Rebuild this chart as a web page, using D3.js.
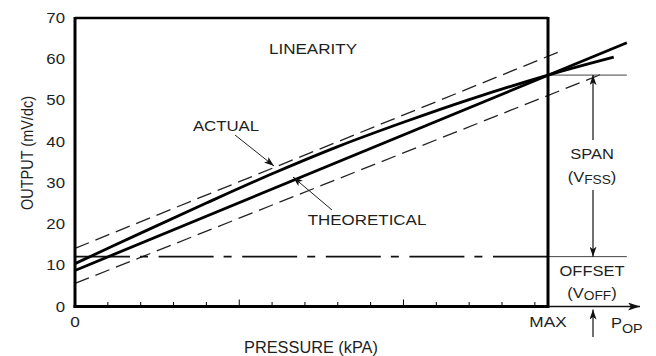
<!DOCTYPE html>
<html>
<head>
<meta charset="UTF-8">
<script src="https://d3js.org/d3.v7.min.js"></script>
<style>
    body { margin: 0; background: #fff; }
    svg { display: block; }
    text { font-family: "Liberation Sans", Arial, sans-serif; fill: #1e1e1e; }
</style>
</head>
<body>
<svg id="chart" width="656" height="356"></svg>
<script>
// pressure in tick units (MAX sits at 14.4), output in mV
const yTicks = [0, 10, 20, 30, 40, 50, 60, 70];
const xMinorTicks = [1, 2, 3, 4, 6, 7, 8, 9, 11, 12, 13, 14];
const xMajorTicks = [5, 10];
const xTickLabels = [{p: 0, label: "0"}, {p: 14.4, label: "MAX"}];
const pMax = 14.4;
const pEnd = 16.8;

const theoretical = [{p: 0, v: 8.75}, {p: 16.8, v: 64.0}];
const actual = [
    {p: 0, v: 10.4}, {p: 2, v: 17.8}, {p: 4, v: 25.1}, {p: 6, v: 32.2},
    {p: 8, v: 38.8}, {p: 10, v: 44.7}, {p: 12, v: 50.2}, {p: 14.4, v: 56.15},
    {p: 16.4, v: 60.5}
];
const upperBand = [{p: 0, v: 14.1}, {p: 14.8, v: 62.0}];
const lowerBand = [{p: 0, v: 5.6}, {p: 16.1, v: 56.6}];
const offsetValue = 12.1;
const spanValue = 56.15;

const svg = d3.select("#chart");
const x = d3.scaleLinear().domain([0, pMax]).range([75, 548]);
const y = d3.scaleLinear().domain([0, 70]).range([306.5, 18]);

// arrow heads
const defs = svg.append("defs");
defs.append("marker")
    .attr("id", "head")
    .attr("viewBox", "0 0 12 8")
    .attr("refX", 12).attr("refY", 4)
    .attr("markerWidth", 12).attr("markerHeight", 8)
    .attr("markerUnits", "userSpaceOnUse")
    .attr("orient", "auto")
    .append("path").attr("d", "M0,0 L12,4 L0,8 L3,4 Z").attr("fill", "#111");
defs.append("marker")
    .attr("id", "headSmall")
    .attr("viewBox", "0 0 10 7")
    .attr("refX", 10).attr("refY", 3.5)
    .attr("markerWidth", 10).attr("markerHeight", 7)
    .attr("markerUnits", "userSpaceOnUse")
    .attr("orient", "auto")
    .append("path").attr("d", "M0,0 L10,3.5 L0,7 L2.5,3.5 Z").attr("fill", "#111");

const line = d3.line().x(d => x(d.p)).y(d => y(d.v));

// horizontal stretched text helper (reference glyphs are a bit wide)
function label(px, py, str, size, anchor, sx) {
    return svg.append("text")
        .attr("transform", `translate(${px},${py}) scale(${sx || 1.12},1)`)
        .attr("font-size", size)
        .attr("text-anchor", anchor || "middle")
        .text(str);
}

// dashed tolerance band
[upperBand, lowerBand].forEach(b => {
    svg.append("path").datum(b)
        .attr("d", line)
        .attr("fill", "none")
        .attr("stroke", "#222")
        .attr("stroke-width", 1.3)
        .attr("stroke-dasharray", "15,7");
});

// offset dash-dot line
svg.append("line")
    .attr("x1", x(0)).attr("x2", x(pMax))
    .attr("y1", y(offsetValue)).attr("y2", y(offsetValue))
    .attr("stroke", "#111").attr("stroke-width", 1.8)
    .attr("stroke-dasharray", "55,10,8,10.6");

// thin reference lines to the right of the frame
[offsetValue, spanValue].forEach(v => {
    svg.append("line")
        .attr("x1", x(pMax)).attr("x2", x(pEnd))
        .attr("y1", y(v)).attr("y2", y(v))
        .attr("stroke", "#444").attr("stroke-width", 1);
});

// theoretical and actual curves
svg.append("path").datum(theoretical)
    .attr("d", line)
    .attr("fill", "none").attr("stroke", "#000").attr("stroke-width", 2.8);
svg.append("path").datum(actual)
    .attr("d", line.curve(d3.curveCatmullRom))
    .attr("fill", "none").attr("stroke", "#000").attr("stroke-width", 2.8);

// frame
svg.append("line").attr("x1", x(0)).attr("x2", x(pMax)).attr("y1", y(70)).attr("y2", y(70))
    .attr("stroke", "#000").attr("stroke-width", 2.4);
svg.append("line").attr("x1", x(0)).attr("x2", x(0)).attr("y1", y(70) - 1).attr("y2", y(0) + 1.5)
    .attr("stroke", "#000").attr("stroke-width", 3);
svg.append("line").attr("x1", x(pMax)).attr("x2", x(pMax)).attr("y1", y(70) - 1).attr("y2", y(0) + 1.5)
    .attr("stroke", "#000").attr("stroke-width", 3);
svg.append("line").attr("x1", x(0) - 1.5).attr("x2", x(pMax)).attr("y1", y(0)).attr("y2", y(0))
    .attr("stroke", "#000").attr("stroke-width", 3);

// x axis arrow beyond MAX
svg.append("line")
    .attr("x1", x(pMax)).attr("x2", 640)
    .attr("y1", y(0)).attr("y2", y(0))
    .attr("stroke", "#111").attr("stroke-width", 1.5)
    .attr("marker-end", "url(#head)");

// ticks
svg.selectAll(".minor").data(xMinorTicks).enter().append("line")
    .attr("x1", d => x(d)).attr("x2", d => x(d))
    .attr("y1", y(0) - 4.5).attr("y2", y(0))
    .attr("stroke", "#000").attr("stroke-width", 1);
svg.selectAll(".major").data(xMajorTicks).enter().append("line")
    .attr("x1", d => x(d)).attr("x2", d => x(d))
    .attr("y1", y(0) - 7).attr("y2", y(0))
    .attr("stroke", "#000").attr("stroke-width", 1);

// tick labels
yTicks.forEach(t => {
    label(65, y(t) + 5, String(t), 14, "end", 1.2);
});
xTickLabels.forEach(t => {
    label(x(t.p), 326.5, t.label, 15, "middle", 1.15);
});

// axis titles
label(311, 353, "PRESSURE (kPA)", 16, "middle", 1.02);
svg.append("text")
    .attr("transform", "translate(33,153) scale(1.2,1) rotate(-90)")
    .attr("font-size", 14.5)
    .attr("text-anchor", "middle")
    .text("OUTPUT (mV/dc)");

// annotations
label(313, 54, "LINEARITY", 15.5, "middle", 1.1);
label(226, 131, "ACTUAL", 15, "middle", 1.12);
label(367, 225, "THEORETICAL", 15, "middle", 1.13);

svg.append("line").attr("x1", 235).attr("y1", 135).attr("x2", 274).attr("y2", 166)
    .attr("stroke", "#222").attr("stroke-width", 1).attr("marker-end", "url(#headSmall)");
svg.append("line").attr("x1", 332).attr("y1", 210).attr("x2", 293).attr("y2", 177)
    .attr("stroke", "#222").attr("stroke-width", 1).attr("marker-end", "url(#headSmall)");

// span / offset annotations
const ax = 593;
svg.append("line").attr("x1", ax).attr("x2", ax).attr("y1", 140).attr("y2", y(spanValue))
    .attr("stroke", "#111").attr("stroke-width", 1.2).attr("marker-end", "url(#headSmall)");
svg.append("line").attr("x1", ax).attr("x2", ax).attr("y1", 190).attr("y2", y(offsetValue))
    .attr("stroke", "#111").attr("stroke-width", 1.2).attr("marker-end", "url(#headSmall)");
svg.append("line").attr("x1", ax).attr("x2", ax).attr("y1", 337).attr("y2", y(0) + 3)
    .attr("stroke", "#111").attr("stroke-width", 1.2).attr("marker-end", "url(#headSmall)");

label(592, 159, "SPAN", 15, "middle", 1.1);
const vfss = label(592, 182, "(V", 15, "middle", 1.1);
vfss.append("tspan").attr("font-size", 12.5).attr("dy", 2).text("FSS");
vfss.append("tspan").attr("dy", -2).text(")");

label(592, 276, "OFFSET", 15, "middle", 1.1);
const voff = label(592, 298, "(V", 15, "middle", 1.1);
voff.append("tspan").attr("font-size", 12.5).attr("dy", 2).text("OFF");
voff.append("tspan").attr("dy", -2).text(")");

const pop = label(611, 328, "P", 15, "start", 1.1);
pop.append("tspan").attr("font-size", 13).attr("dy", 5).text("OP");
</script>
</body>
</html>
